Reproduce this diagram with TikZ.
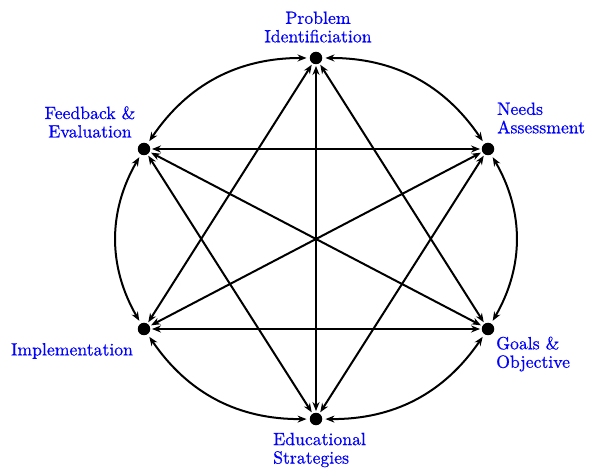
\documentclass[tikz,border=0pt]{standalone}
\usepackage{fontspec}
\usepackage{tikz}
\usetikzlibrary{arrows.meta, positioning}
\newfontfamily\lblfont[FakeBold=0.6]{lmroman10-regular.otf}

\begin{document}
\begin{tikzpicture}[
  x=1pt, y=-1pt,
  dot/.style={circle, fill=black, inner sep=0pt, minimum size=12.5pt},
  lbl/.style={text=blue, font=\lblfont\fontsize{17.7}{18.5}\selectfont, inner sep=0pt},
  ar/.style={{Stealth[length=9pt,width=7pt]}-{Stealth[length=9pt,width=7pt]}, line width=2pt, shorten >=1.5pt, shorten <=1.5pt},
  arc/.style={ar, shorten >=3pt, shorten <=3pt}
]
\useasboundingbox (0,0) rectangle (590,468);
% stages
\node[dot] (prob) at (316,58) {};
\node[dot] (need) at (488,149) {};
\node[dot] (goal) at (488,329) {};
\node[dot] (edu)  at (316,419) {};
\node[dot] (impl) at (144,329) {};
\node[dot] (feed) at (144,149) {};
% labels
\node[lbl, align=center] (probl) at (318,27) {Problem\\Identificiation};
\node[lbl, align=left, anchor=west] (needl) at (497,118) {Needs\\Assessment};
\node[lbl, align=left, anchor=west] (goall) at (496,354) {Goals \&\\Objective};
\node[lbl, align=left, anchor=west] (edul) at (273,450) {Educational\\Strategies};
\node[lbl] (impll) at (72,351) {Implementation};
\node[lbl, align=center] (feedl) at (90,122) {Feedback \&\\Evaluation};
% outer cycle
\draw[arc] (prob) to[bend left=28] (need);
\draw[arc] (need) to[bend left=30] (goal);
\draw[arc] (goal) to[bend left=28] (edu);
\draw[arc] (edu)  to[bend left=28] (impl);
\draw[arc] (impl) to[bend left=30] (feed);
\draw[arc] (feed) to[bend left=28] (prob);
% inner links
\draw[ar] (prob) -- (edu);
\draw[ar] (prob) -- (goal);
\draw[ar] (prob) -- (impl);
\draw[ar] (edu) -- (need);
\draw[ar] (edu) -- (feed);
\draw[ar] (feed) -- (need);
\draw[ar] (impl) -- (goal);
\draw[ar] (feed) -- (goal);
\draw[ar] (impl) -- (need);
\end{tikzpicture}
\end{document}
